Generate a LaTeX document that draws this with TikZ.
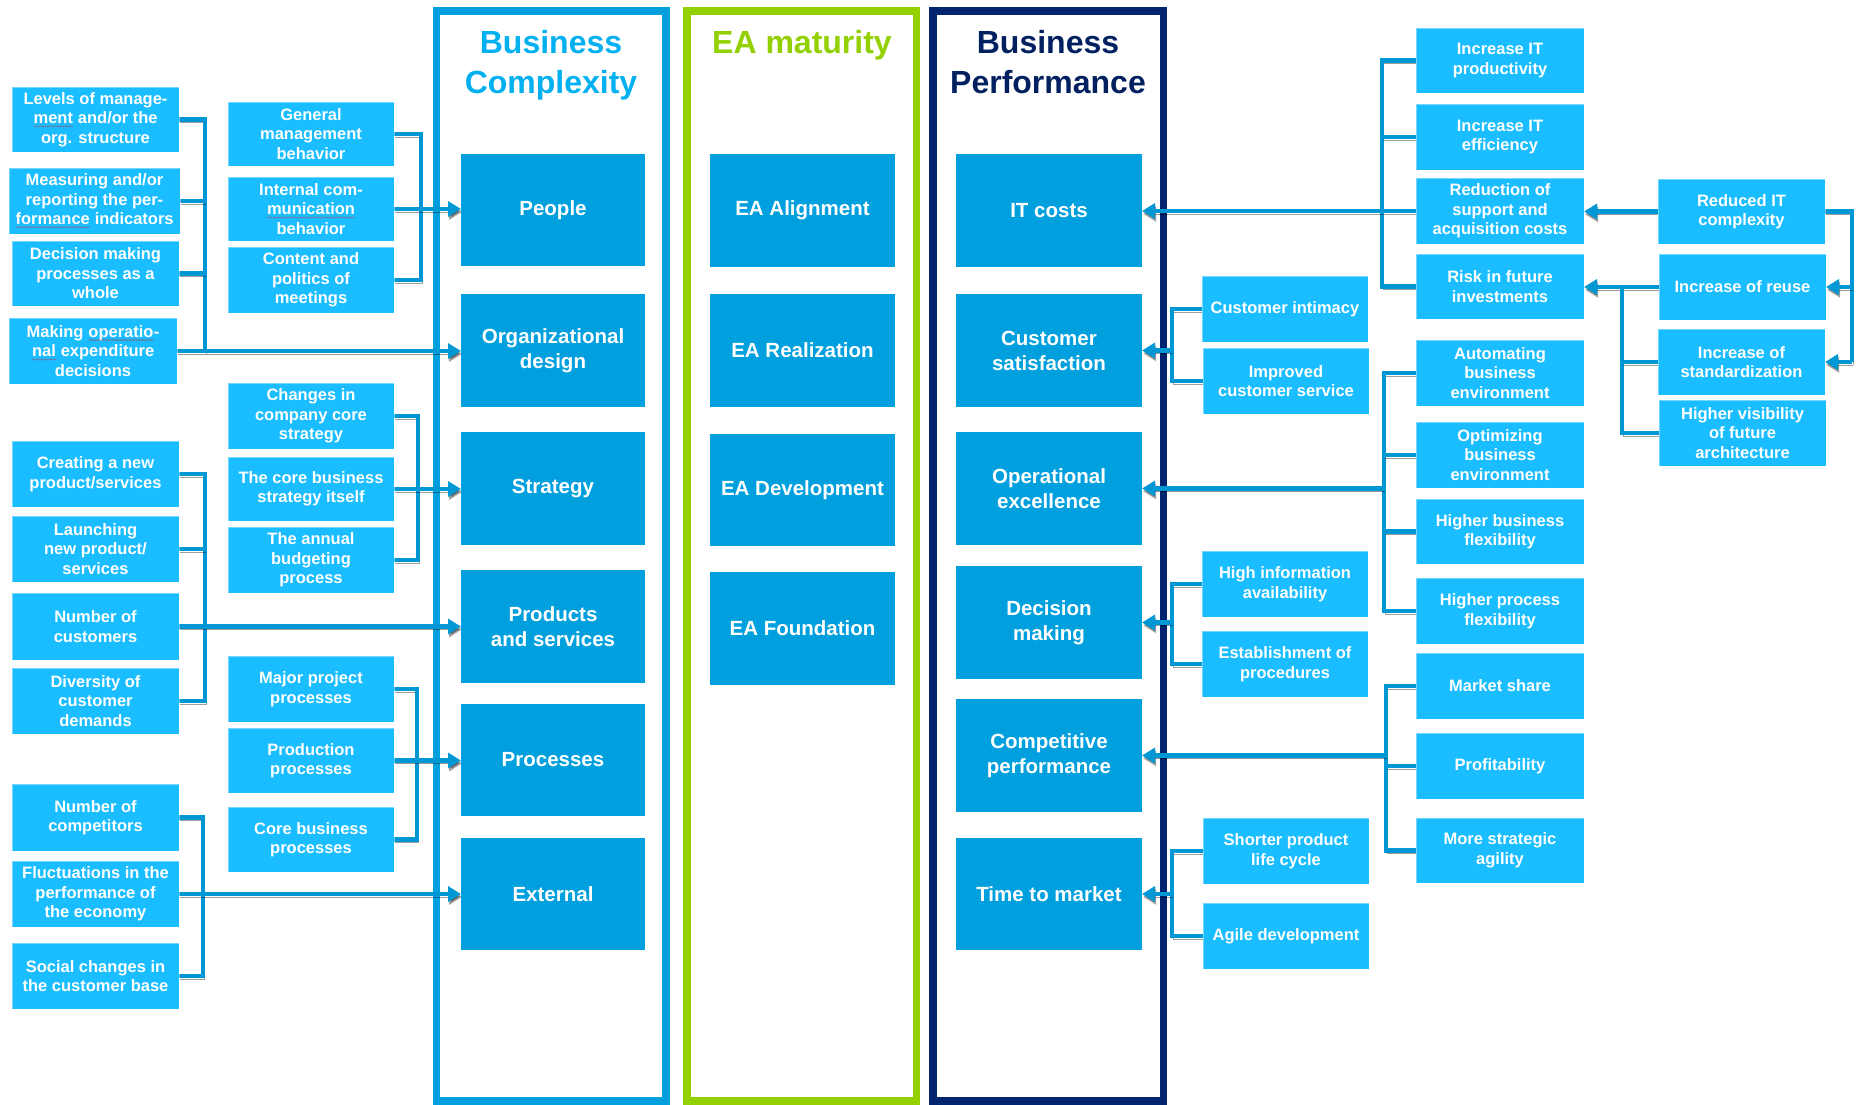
\documentclass[tikz,border=0pt]{standalone}
\usepackage{fontspec}
\setmainfont{Liberation Sans}
\usetikzlibrary{arrows.meta,decorations.pathmorphing}

\pgfdeclarelayer{bg}
\pgfdeclarelayer{mid}
\pgfsetlayers{bg,mid,main}

\definecolor{boxlight}{RGB}{26,189,255}
\definecolor{boxmain}{RGB}{0,160,222}
\definecolor{linkblue}{RGB}{0,152,212}
\definecolor{frameBC}{RGB}{0,160,222}
\definecolor{headBC}{RGB}{0,176,240}
\definecolor{frameEA}{RGB}{146,208,0}
\definecolor{frameBP}{RGB}{0,36,112}
\definecolor{headBP}{RGB}{0,32,96}

% red wavy spell-check underline: name, word
\newcommand\spellmark[2]{\tikz[baseline=(#1.base)]{%
  \node[draw=none, fill=none, minimum width=0pt, minimum height=0pt,
        inner sep=0pt, outer sep=0pt, text=white] (#1) {#2};
  \draw[red, line width=0.6pt, decorate, decoration={snake, amplitude=0.7pt, segment length=3pt}]
    ([yshift=-2.6pt]#1.base west) -- ([yshift=-2.6pt]#1.base east);}}

% box given by its corners: style, name, x1, y1, x2, y2, text
\newcommand\boxnode[7]{\node[#1, minimum width={(#5)-(#3)}, minimum height={(#6)-(#4)}] (#2) at ({((#3)+(#5))/2},{((#4)+(#6))/2}) {#7};}

\tikzset{
  subbox/.style={rectangle, fill=boxlight, draw=white, draw opacity=0.4, line width=0.8pt,
    text=white, align=center, inner sep=0pt, outer sep=0pt,
    font=\bfseries\fontsize{16.5}{19.5}\selectfont},
  mainbox/.style={rectangle, fill=boxmain, text=white, align=center, inner sep=0pt, outer sep=0pt,
    font=\bfseries\fontsize{20.5}{25}\selectfont},
  link/.style={draw=linkblue, line width=4.8pt, line join=miter,
    preaction={draw=black, opacity=0.38, transform canvas={shift={(1.2pt,-2.8pt)}}}},
  arrowlink/.style={link, -{Triangle[length=13pt,width=15pt]}},
  frame/.style={line width=7.5pt},
  header/.style={font=\bfseries\fontsize{32}{40}\selectfont, align=center, anchor=north, inner sep=0pt}
}

\begin{document}
\begin{tikzpicture}[x=1pt,y=-1pt]
\useasboundingbox (0,0) rectangle (1858,1104);

% page background and column frames
\begin{pgfonlayer}{bg}
  \fill[white] (0,0) rectangle (1858,1104);
  \draw[frame, draw=frameBC] (436.5,11) rectangle (666,1101);
  \draw[frame, draw=frameEA] (687,11) rectangle (916.5,1101);
  \draw[frame, draw=frameBP] (933,11) rectangle (1163.5,1101);
\end{pgfonlayer}

% column headers
\node[header, text=headBC] (hBC) at (551,30) {Business\\Complexity};
\node[header, text=frameEA] (hEA) at (802,30) {EA maturity};
\node[header, text=headBP] (hBP) at (1048,30) {Business\\Performance};

% Business complexity
\boxnode{mainbox}{People}{461}{154}{645}{266}{People}
\boxnode{mainbox}{Org}{461}{294}{645}{407}{Organizational\\design}
\boxnode{mainbox}{Strat}{461}{432}{645}{545}{Strategy}
\boxnode{mainbox}{Prod}{461}{570}{645}{683}{Products\\and services}
\boxnode{mainbox}{Proc}{461}{704}{645}{816}{Processes}
\boxnode{mainbox}{Ext}{461}{838}{645}{950}{External}

% EA maturity
\boxnode{mainbox}{Align}{710}{154}{895}{267}{EA Alignment}
\boxnode{mainbox}{Real}{710}{294}{895}{407}{EA Realization}
\boxnode{mainbox}{Dev}{710}{434}{895}{546}{EA Development}
\boxnode{mainbox}{Found}{710}{572}{895}{685}{EA Foundation}

% Business performance
\boxnode{mainbox}{IT}{956}{154}{1142}{267}{IT costs}
\boxnode{mainbox}{CS}{956}{294}{1142}{407}{Customer\\satisfaction}
\boxnode{mainbox}{OE}{956}{432}{1142}{545}{Operational\\excellence}
\boxnode{mainbox}{DM}{956}{566}{1142}{679}{Decision\\making}
\boxnode{mainbox}{CP}{956}{699}{1142}{812}{Competitive\\performance}
\boxnode{mainbox}{TM}{956}{838}{1142}{950}{Time to market}

% outer left drivers
\boxnode{subbox}{L1}{12}{87}{179}{152}{Levels of manage-\\\spellmark{wa}{ment} and/or the\\org. structure}
\boxnode{subbox}{L2}{9}{168}{180}{234}{Measuring and/or\\reporting the per-\\\spellmark{wb}{formance} indicators}
\boxnode{subbox}{L3}{12}{241}{179}{306}{Decision making\\processes as a\\whole}
\boxnode{subbox}{L4}{9}{318}{177}{384}{Making \spellmark{wc}{operatio}-\\\spellmark{wd}{nal} expenditure\\decisions}
\boxnode{subbox}{L5}{12}{441}{179}{507}{Creating a new\\product/services}
\boxnode{subbox}{L6}{12}{516}{179}{582}{Launching\\new product/\\services}
\boxnode{subbox}{L7}{12}{593}{179}{660}{Number of\\customers}
\boxnode{subbox}{L8}{12}{668}{179}{734}{Diversity of\\customer\\demands}
\boxnode{subbox}{L9}{12}{784}{179}{851}{Number of\\competitors}
\boxnode{subbox}{L10}{12}{861}{179}{927}{Fluctuations in the\\performance of\\the economy}
\boxnode{subbox}{L11}{12}{943}{179}{1009}{Social changes in\\the customer base}

% inner left drivers
\boxnode{subbox}{M1}{228}{102}{394}{166}{General\\management\\behavior}
\boxnode{subbox}{M2}{228}{177}{394}{241}{Internal com-\\\spellmark{we}{munication}\\behavior}
\boxnode{subbox}{M3}{228}{247}{394}{313}{Content and\\politics of\\meetings}
\boxnode{subbox}{M4}{228}{383}{394}{449}{Changes in\\company core\\strategy}
\boxnode{subbox}{M5}{228}{457}{394}{521}{The core business\\strategy itself}
\boxnode{subbox}{M6}{228}{527}{394}{593}{The annual\\budgeting\\process}
\boxnode{subbox}{M7}{228}{656}{394}{722}{Major project\\processes}
\boxnode{subbox}{M8}{228}{728}{394}{793}{Production\\processes}
\boxnode{subbox}{M9}{228}{807}{394}{872}{Core business\\processes}

% inner right benefits
\boxnode{subbox}{CI}{1202}{276}{1368}{342}{Customer intimacy}
\boxnode{subbox}{IC}{1203}{348}{1369}{414}{Improved\\customer service}
\boxnode{subbox}{HI}{1202}{551}{1368}{617}{High information\\availability}
\boxnode{subbox}{EP}{1202}{631}{1368}{697}{Establishment of\\procedures}
\boxnode{subbox}{SP}{1203}{818}{1369}{884}{Shorter product\\life cycle}
\boxnode{subbox}{AD}{1203}{903}{1369}{969}{Agile development}

% outer right benefits
\boxnode{subbox}{RP1}{1416}{28}{1584}{93}{Increase IT\\productivity}
\boxnode{subbox}{RP2}{1416}{104}{1584}{170}{Increase IT\\efficiency}
\boxnode{subbox}{RP3}{1416}{178}{1584}{244}{Reduction of\\support and\\acquisition costs}
\boxnode{subbox}{RP4}{1416}{254}{1584}{319}{Risk in future\\investments}
\boxnode{subbox}{RA1}{1416}{340}{1584}{406}{Automating\\business\\environment}
\boxnode{subbox}{RA2}{1416}{422}{1584}{488}{Optimizing\\business\\environment}
\boxnode{subbox}{RA3}{1416}{499}{1584}{564}{Higher business\\flexibility}
\boxnode{subbox}{RA4}{1416}{578}{1584}{644}{Higher process\\flexibility}
\boxnode{subbox}{RM1}{1416}{653}{1584}{719}{Market share}
\boxnode{subbox}{RM2}{1416}{733}{1584}{799}{Profitability}
\boxnode{subbox}{RM3}{1416}{818}{1584}{883}{More strategic\\agility}

% architecture benefits
\boxnode{subbox}{RC1}{1658}{179}{1825}{244}{Reduced IT\\complexity}
\boxnode{subbox}{RC2}{1659}{254}{1826}{320}{Increase of reuse}
\boxnode{subbox}{RC3}{1658}{329}{1825}{395}{Increase of\\standardization}
\boxnode{subbox}{RC4}{1659}{400}{1826}{466}{Higher visibility\\of future\\architecture}

% bracket spines
\coordinate (xA) at (205,0);
\coordinate (xD) at (205,0);
\coordinate (xF) at (203,0);
\coordinate (xB) at (421,0);
\coordinate (xC) at (418,0);
\coordinate (xE) at (417,0);
\coordinate (xG) at (1382,0);
\coordinate (xH) at (1172,0);
\coordinate (xK) at (1384,0);
\coordinate (xL) at (1386,0);
\coordinate (xS) at (1622,0);
\coordinate (xR) at (1852,0);

\begin{pgfonlayer}{mid}
  % organizational design
  \draw[link] (L1.east) -- (L1.east -| xA) -- (L4.east -| xA);
  \draw[link] (L2.east) -- (L2.east -| xA);
  \draw[link] (L3.east) -- (L3.east -| xA);
  \draw[arrowlink] (L4.east) -- (L4.east -| Org.west);
  % people
  \draw[link] (M1.east) -- (M1.east -| xB) -- (M3.east -| xB) -- (M3.east);
  \draw[arrowlink] (M2.east) -- (M2.east -| People.west);
  % strategy
  \draw[link] (M4.east) -- (M4.east -| xC) -- (M6.east -| xC) -- (M6.east);
  \draw[arrowlink] (M5.east) -- (M5.east -| Strat.west);
  % products and services
  \draw[link] (L5.east) -- (L5.east -| xD) -- (L8.east -| xD) -- (L8.east);
  \draw[link] (L6.east) -- (L6.east -| xD);
  \draw[arrowlink] (L7.east) -- (L7.east -| Prod.west);
  % processes
  \draw[link] (M7.east) -- (M7.east -| xE) -- (M9.east -| xE) -- (M9.east);
  \draw[arrowlink] (M8.east) -- (M8.east -| Proc.west);
  % external
  \draw[link] (L9.east) -- (L9.east -| xF) -- (L11.east -| xF) -- (L11.east);
  \draw[arrowlink] (L10.east) -- (L10.east -| Ext.west);

  % IT costs
  \draw[link] (RP1.west) -- (RP1.west -| xG) -- (RP4.west -| xG) -- (RP4.west);
  \draw[link] (RP2.west) -- (RP2.west -| xG);
  \draw[arrowlink] (RP3.west) -- (RP3.west -| IT.east);
  \draw[arrowlink] (RC1.west) -- (RC1.west -| RP3.east);
  \draw[link] (RC1.east) -- (RC1.east -| xR) -- (RC3.east -| xR);
  \draw[arrowlink] (RC2.east -| xR) -- (RC2.east);
  \draw[arrowlink] (RC3.east -| xR) -- (RC3.east);
  \draw[arrowlink] (RC2.west) -- (RC2.west -| RP4.east);
  \draw[link] (RC4.west) -- (RC4.west -| xS) -- (RC2.west -| xS);
  \draw[link] (RC3.west) -- (RC3.west -| xS);
  % customer satisfaction
  \draw[link] (CI.west) -- (CI.west -| xH) -- (IC.west -| xH) -- (IC.west);
  \draw[arrowlink] (CS.east -| xH) -- (CS.east);
  % operational excellence
  \draw[link] (RA1.west) -- (RA1.west -| xK) -- (RA4.west -| xK) -- (RA4.west);
  \draw[link] (RA2.west) -- (RA2.west -| xK);
  \draw[link] (RA3.west) -- (RA3.west -| xK);
  \draw[arrowlink] (OE.east -| xK) -- (OE.east);
  % decision making
  \draw[link] (HI.west) -- (HI.west -| xH) -- (EP.west -| xH) -- (EP.west);
  \draw[arrowlink] (DM.east -| xH) -- (DM.east);
  % competitive performance
  \draw[link] (RM1.west) -- (RM1.west -| xL) -- (RM3.west -| xL) -- (RM3.west);
  \draw[link] (RM2.west) -- (RM2.west -| xL);
  \draw[arrowlink] (CP.east -| xL) -- (CP.east);
  % time to market
  \draw[link] (SP.west) -- (SP.west -| xH) -- (AD.west -| xH) -- (AD.west);
  \draw[arrowlink] (TM.east -| xH) -- (TM.east);
\end{pgfonlayer}
\end{tikzpicture}
\end{document}
